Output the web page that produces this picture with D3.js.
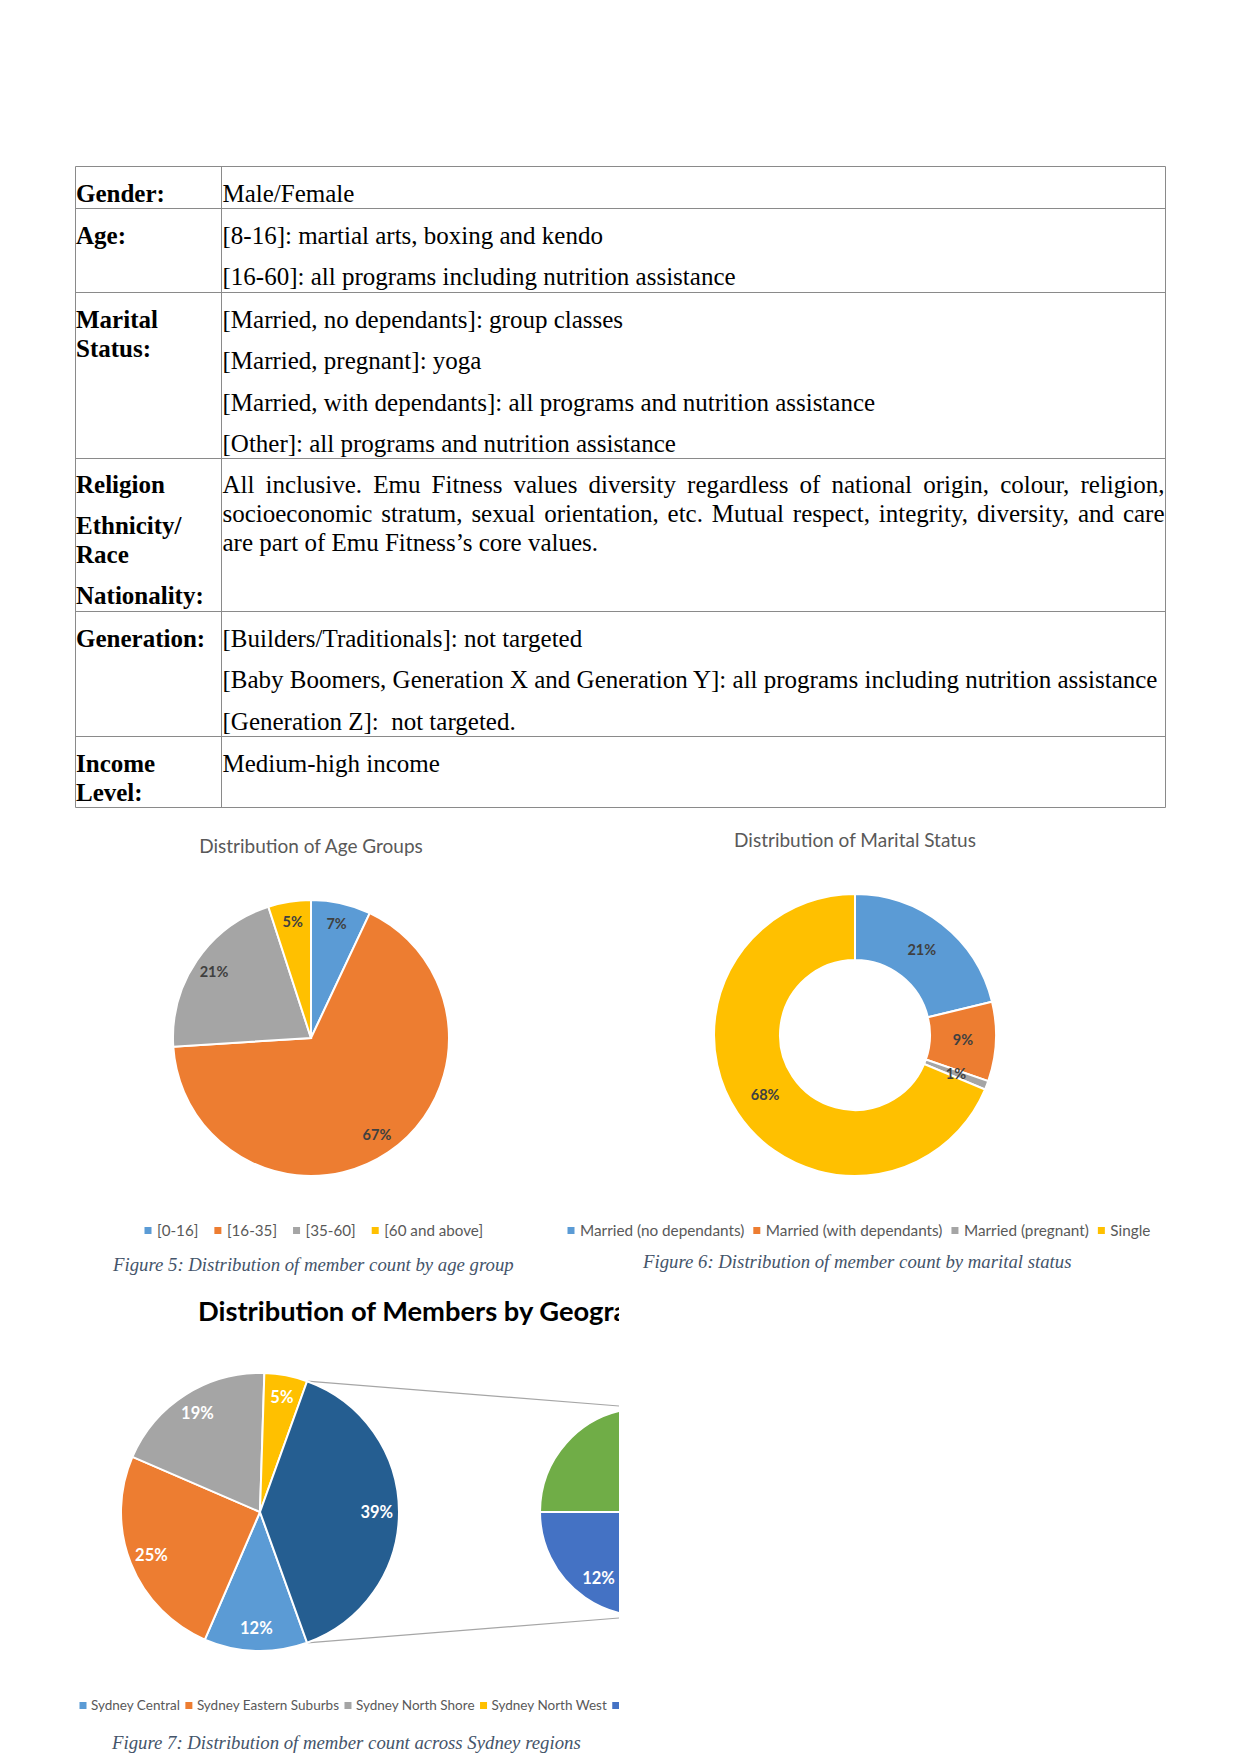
<!DOCTYPE html>
<html><head><meta charset="utf-8">
<script src="https://cdn.jsdelivr.net/npm/d3@7"></script>
<style>body{margin:0;background:#fff} svg{display:block}</style>
</head><body>
<svg id="page" width="1241" height="1754"></svg>
<script>
// ---------------- DATA ----------------
const ageTitle = "Distribution of Age Groups";
const ageCategories = ["[0-16]", "[16-35]", "[35-60]", "[60 and above]"];
const ageValues = [7, 67, 21, 5];

const maritalTitle = "Distribution of Marital Status";
const maritalCategories = ["Married (no dependants)", "Married (with dependants)", "Married (pregnant)", "Single"];
const maritalValues = [21, 9, 1, 68];

const regionTitle = "Distribution of Members by Geogra";
const regionCategories = ["Sydney Central", "Sydney Eastern Suburbs", "Sydney North Shore", "Sydney North West", ""];
const regionMainValues = [12, 25, 19, 5];
const regionSecondaryValues = [12, 27];   // blue (labelled 12%), green (label cut off)

const captions = [
  "Figure 5: Distribution of member count by age group",
  "Figure 6: Distribution of member count by marital status",
  "Figure 7: Distribution of member count across Sydney regions"
];

const tableLabels = [
  [["Gender:"]],
  [["Age:"]],
  [["Marital", "Status:"]],
  [["Religion"], ["Ethnicity/", "Race"], ["Nationality:"]],
  [["Generation:"]],
  [["Income", "Level:"]]
];
const tableContent = [
  [["Male/Female"]],
  [["[8-16]: martial arts, boxing and kendo"], ["[16-60]: all programs including nutrition assistance"]],
  [["[Married, no dependants]: group classes"], ["[Married, pregnant]: yoga"], ["[Married, with dependants]: all programs and nutrition assistance"], ["[Other]: all programs and nutrition assistance"]],
  [["All inclusive. Emu Fitness values diversity regardless of national origin, colour, religion,",
    "socioeconomic stratum, sexual orientation, etc. Mutual respect, integrity, diversity, and care",
    "are part of Emu Fitness\u2019s core values."]],
  [["[Builders/Traditionals]: not targeted"], ["[Baby Boomers, Generation X and Generation Y]: all programs including nutrition assistance"], ["[Generation Z]:\u00a0 not targeted."]],
  [["Medium-high income"]]
];

// ---------------- LAYOUT ----------------
const svg = d3.select("#page");
svg.append("rect").attr("width", 1241).attr("height", 1754).attr("fill", "#fff");

const serif = "'Liberation Serif', 'Times New Roman', serif";
const sans = "Lato, 'Open Sans', sans-serif";
const officeColors = ["#5B9BD5", "#ED7D31", "#A5A5A5", "#FFC000"];

// table
const tX0 = 75.5, tX1 = 1165.5, tCol = 221.5;
const rowLines = [166.5, 208.5, 292.5, 458.5, 611.5, 736.5, 807.5];
const lineH = 28.9, paraGap = 12.4, firstOff = 35.5;
const tbl = svg.append("g");
tbl.selectAll("line.h").data(rowLines).join("line")
  .attr("x1", tX0).attr("x2", tX1).attr("y1", d => d).attr("y2", d => d)
  .attr("stroke", "#8a8a8a").attr("stroke-width", 1);
[tX0, tCol, tX1].forEach(x => tbl.append("line").attr("x1", x).attr("x2", x)
  .attr("y1", rowLines[0]).attr("y2", rowLines[rowLines.length - 1])
  .attr("stroke", "#8a8a8a").attr("stroke-width", 1));

function paraLayout(paras, top, off) {
  const out = [];
  let y = top + off;
  paras.forEach((p) => {
    p.forEach((line, li) => {
      out.push({ text: line, y: y, last: li === p.length - 1 });
      y += lineH;
    });
    y += paraGap;
  });
  return out;
}
const measurer = svg.append("text").attr("font-family", serif).attr("font-size", 25).attr("x", -1000).attr("y", -1000);
function measure(t) { measurer.text(t); return measurer.node().getComputedTextLength(); }

tableLabels.forEach((paras, r) => {
  paraLayout(paras, rowLines[r], r === 3 ? 34 : firstOff).forEach(l => {
    tbl.append("text").attr("x", 76).attr("y", l.y).attr("font-family", serif)
      .attr("font-size", 25).attr("font-weight", "bold").attr("fill", "#000").text(l.text);
  });
});
const justifyWidth = tX1 - 1 - (tCol + 1);
tableContent.forEach((paras, r) => {
  paraLayout(paras, rowLines[r], r === 3 ? 34.5 : firstOff).forEach(l => {
    if (r === 3 && !l.last) {
      const words = l.text.split(" ");
      const ws = words.map(measure);
      const gap = (justifyWidth - d3.sum(ws)) / (words.length - 1);
      let x = tCol + 1;
      const t = tbl.append("text").attr("y", l.y).attr("font-family", serif).attr("font-size", 25).attr("fill", "#000");
      words.forEach((w, i) => { t.append("tspan").attr("x", x).text(w); x += ws[i] + gap; });
    } else {
      tbl.append("text").attr("x", tCol + 1).attr("y", l.y).attr("font-family", serif)
        .attr("font-size", 25).attr("fill", "#000").text(l.text);
    }
  });
});
measurer.remove();

// legend helper
function legend(g, items, colors, x0, y, fs, gap, off) {
  let x = x0;
  items.forEach((name, i) => {
    g.append("rect").attr("x", x - 3.5).attr("y", y - 3.5).attr("width", 7).attr("height", 7).attr("fill", colors[i]);
    if (name) {
      const t = g.append("text").attr("x", x + off).attr("y", y).attr("dy", "0.35em")
        .attr("font-family", sans).attr("font-size", fs).attr("fill", "#595959").text(name);
      x += off + t.node().getComputedTextLength() + gap;
    }
  });
}
function caption(text, x, y) {
  svg.append("text").attr("x", x).attr("y", y).attr("font-family", serif).attr("font-style", "italic")
    .attr("font-size", 18.75).attr("fill", "#44546A").text(text);
}

// ---- Age pie ----
{
  const cx = 311, cy = 1038, r = 138;
  svg.append("text").attr("x", cx).attr("y", 853).attr("text-anchor", "middle").attr("font-family", sans)
    .attr("font-size", 19).attr("fill", "#595959").text(ageTitle);
  const g = svg.append("g").attr("transform", `translate(${cx},${cy})`);
  const arcs = d3.pie().sort(null).value(d => d)(ageValues);
  const arc = d3.arc().innerRadius(0).outerRadius(r);
  const lab = d3.arc().innerRadius(r * 0.85).outerRadius(r * 0.85);
  g.selectAll("path").data(arcs).join("path").attr("d", arc)
    .attr("fill", (d, i) => officeColors[i]).attr("stroke", "#fff").attr("stroke-width", 2);
  g.selectAll("text").data(arcs).join("text")
    .attr("transform", d => `translate(${lab.centroid(d)})`).attr("text-anchor", "middle").attr("dy", "0.35em")
    .attr("font-family", sans).attr("font-weight", "bold").attr("font-size", 14.5).attr("fill", "#404040")
    .text(d => d.data + "%");
  legend(svg.append("g"), ageCategories, officeColors, 148, 1230.5, 15.2, 19.5, 9);
  caption(captions[0], 113, 1271);
}

// ---- Marital donut ----
{
  const cx = 855, cy = 1035, r = 141, ri = 75;
  svg.append("text").attr("x", cx).attr("y", 846.5).attr("text-anchor", "middle").attr("font-family", sans)
    .attr("font-size", 19).attr("fill", "#595959").text(maritalTitle);
  const g = svg.append("g").attr("transform", `translate(${cx},${cy})`);
  const arcs = d3.pie().sort(null).value(d => d)(maritalValues);
  const arc = d3.arc().innerRadius(ri).outerRadius(r);
  g.selectAll("path").data(arcs).join("path").attr("d", arc)
    .attr("fill", (d, i) => officeColors[i]).attr("stroke", "#fff").attr("stroke-width", 2);
  g.selectAll("text").data(arcs).join("text")
    .attr("transform", d => `translate(${arc.centroid(d)})`).attr("text-anchor", "middle").attr("dy", "0.35em")
    .attr("font-family", sans).attr("font-weight", "bold").attr("font-size", 14.5).attr("fill", "#404040")
    .text(d => d.data + "%");
  legend(svg.append("g"), maritalCategories, officeColors, 571, 1230.5, 15.3, 12.5, 9);
  caption(captions[1], 643, 1268);
}

// ---- Region pie of pie (cropped) ----
{
  const clipId = "geoClip";
  svg.append("clipPath").attr("id", clipId).append("rect").attr("x", 0).attr("y", 1280).attr("width", 619).attr("height", 440);
  const g0 = svg.append("g").attr("clip-path", `url(#${clipId})`);
  g0.append("text").attr("x", 198).attr("y", 1321).attr("font-family", sans).attr("font-weight", "bold")
    .attr("font-size", 27.3).attr("fill", "#000").text(regionTitle);

  const cx = 260, cy = 1512, r = 139;
  const cx2 = 644, r2 = 104;
  const other = d3.sum(regionSecondaryValues);
  const mainVals = regionMainValues.concat([other]);
  const total = d3.sum(mainVals);
  const start = Math.PI / 2 + (other / total) * Math.PI;
  const arcs = d3.pie().sort(null).value(d => d).startAngle(start).endAngle(start + 2 * Math.PI)(mainVals);
  const mainColors = officeColors.concat(["#255E91"]);
  const arc = d3.arc().innerRadius(0).outerRadius(r);
  const lab = d3.arc().innerRadius(r * 0.84).outerRadius(r * 0.84);

  // connector lines
  const oArc = arcs[arcs.length - 1];
  const pt = a => [cx + r * Math.sin(a), cy - r * Math.cos(a)];
  const pTop = pt(oArc.startAngle), pBot = pt(oArc.endAngle);
  g0.append("line").attr("x1", pTop[0]).attr("y1", pTop[1]).attr("x2", cx2).attr("y2", cy - r2)
    .attr("stroke", "#A6A6A6").attr("stroke-width", 1.2);
  g0.append("line").attr("x1", pBot[0]).attr("y1", pBot[1]).attr("x2", cx2).attr("y2", cy + r2)
    .attr("stroke", "#A6A6A6").attr("stroke-width", 1.2);

  const g = g0.append("g").attr("transform", `translate(${cx},${cy})`);
  g.selectAll("path").data(arcs).join("path").attr("d", arc)
    .attr("fill", (d, i) => mainColors[i]).attr("stroke", "#fff").attr("stroke-width", 2);
  g.selectAll("text").data(arcs).join("text")
    .attr("transform", d => `translate(${lab.centroid(d)})`).attr("text-anchor", "middle").attr("dy", "0.35em")
    .attr("font-family", sans).attr("font-weight", "bold").attr("font-size", 16.5).attr("fill", "#fff")
    .text(d => d.data + "%");

  // secondary pie
  const s0 = 1.5 * Math.PI - (regionSecondaryValues[0] / other) * 2 * Math.PI;
  const arcs2 = d3.pie().sort(null).value(d => d).startAngle(s0).endAngle(s0 + 2 * Math.PI)(regionSecondaryValues);
  const arc2 = d3.arc().innerRadius(0).outerRadius(r2);
  const lab2 = d3.arc().innerRadius(r2 * 0.77).outerRadius(r2 * 0.77);
  const g2 = g0.append("g").attr("transform", `translate(${cx2},${cy})`);
  g2.selectAll("path").data(arcs2).join("path").attr("d", arc2)
    .attr("fill", (d, i) => ["#4472C4", "#70AD47"][i]).attr("stroke", "#fff").attr("stroke-width", 2);
  g2.selectAll("text").data([arcs2[0]]).join("text")
    .attr("transform", d => `translate(${lab2.centroid(d)})`).attr("text-anchor", "middle").attr("dy", "0.35em")
    .attr("font-family", sans).attr("font-weight", "bold").attr("font-size", 16.5).attr("fill", "#fff")
    .text(d => d.data + "%");

  legend(g0.append("g"), regionCategories, officeColors.concat(["#4472C4"]), 83, 1705.5, 13.5, 9, 8);
  caption(captions[2], 112, 1749);
}
</script>
</body></html>
